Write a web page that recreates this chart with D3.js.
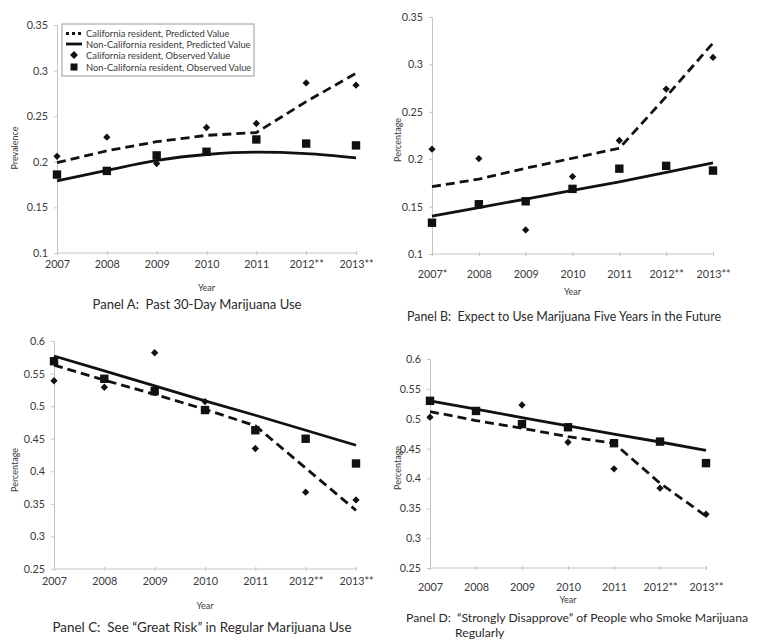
<!DOCTYPE html>
<html>
<head>
<meta charset="utf-8">
<script src="https://cdn.jsdelivr.net/npm/d3@7"></script>
<style>
  html, body { margin: 0; padding: 0; background: #fff; }
  svg { display: block; font-family: Lato, "Open Sans", sans-serif; }
  text { white-space: pre; }
</style>
</head>
<body>
<svg id="chart" width="762" height="643"></svg>
<script>
// ---------- DATA ----------
const yearLabels = ["2007", "2008", "2009", "2010", "2011", "2012**", "2013**"];
const yearLabelsB = ["2007*", "2008", "2009", "2010", "2011", "2012**", "2013**"];
const years = [2007, 2008, 2009, 2010, 2011, 2012, 2013];

const ticksAB = [0.1, 0.15, 0.2, 0.25, 0.3, 0.35];
const ticksCD = [0.25, 0.3, 0.35, 0.4, 0.45, 0.5, 0.55, 0.6];

const legendLabels = [
  "California resident, Predicted Value",
  "Non-California resident, Predicted Value",
  "California resident, Observed Value",
  "Non-California resident, Observed Value"
];

// Panel A: Past 30-Day Marijuana Use
const aCaPred  = [0.199, 0.212, 0.222, 0.229, 0.232, 0.266, 0.297];
const aNonPred = [0.179, 0.1905, 0.2015, 0.208, 0.2106, 0.209, 0.2044];
const aCaObs   = [0.206, 0.227, 0.198, 0.2376, 0.242, 0.2865, 0.284];
const aNonObs  = [0.186, 0.19, 0.207, 0.211, 0.2245, 0.22, 0.218];

// Panel B: Expect to use in five years
const bCaPred  = [0.171, 0.179, 0.1905, 0.201, 0.2116, 0.266, 0.3225];
const bNonPred = [0.14, 0.149, 0.158, 0.167, 0.176, 0.186, 0.196];
const bCaObs   = [0.2106, 0.2007, 0.1254, 0.1817, 0.2197, 0.274, 0.3074];
const bNonObs  = [0.133, 0.1525, 0.1556, 0.1687, 0.19, 0.193, 0.188];

// Panel C: See "Great Risk"
const cCaPred  = [0.563, 0.540, 0.518, 0.495, 0.470, 0.405, 0.340];
const cNonPred = [0.577, 0.554, 0.531, 0.508, 0.486, 0.463, 0.440];
const cCaObs   = [0.539, 0.529, 0.582, 0.507, 0.435, 0.368, 0.356];
const cNonObs  = [0.569, 0.542, 0.523, 0.494, 0.463, 0.45, 0.412];

// Panel D: "Strongly Disapprove"
const dCaPred  = [0.512, 0.497, 0.484, 0.470, 0.459, 0.392, 0.337];
const dNonPred = [0.530, 0.516, 0.502, 0.488, 0.474, 0.461, 0.447];
const dCaObs   = [0.5025, 0.5136, 0.523, 0.4606, 0.416, 0.3837, 0.34];
const dNonObs  = [0.53, 0.513, 0.491, 0.4857, 0.459, 0.4617, 0.4256];

const titleA = ["Panel A:  Past 30-Day Marijuana Use"];
const titleB = ["Panel B:  Expect to Use Marijuana Five Years in the Future"];
const titleC = ["Panel C:  See \u201CGreat Risk\u201D in Regular Marijuana Use"];
const titleD = ["Panel D:  \u201CStrongly Disapprove\u201D of People who Smoke Marijuana", "Regularly"];

// ---------- LAYOUT ----------
const panels = [
  { x0: 57, x1: 356, yT: 25, yB: 253, dom: [0.1, 0.35], ticks: ticksAB, xl: yearLabels,
    caPred: aCaPred, nonPred: aNonPred, caObs: aCaObs, nonObs: aNonObs,
    ylab: "Prevalence", ylabX: 14, ylabY: 148, tickY: 263, yearY: 287,
    title: titleA, titleX: 197, titleY: 304, titleW: 209, titleFs: 13, anchor: "middle", smoothNon: true, legend: true },
  { x0: 432, x1: 713, yT: 17, yB: 254, dom: [0.1, 0.35], ticks: ticksAB, xl: yearLabelsB,
    caPred: bCaPred, nonPred: bNonPred, caObs: bCaObs, nonObs: bNonObs,
    ylab: "Percentage", ylabX: 397, ylabY: 140, tickY: 273, yearY: 291,
    title: titleB, titleX: 564, titleY: 316, titleW: 314, titleFs: 13, anchor: "middle" },
  { x0: 54, x1: 356, yT: 341, yB: 569, dom: [0.25, 0.6], ticks: ticksCD, xl: yearLabels,
    caPred: cCaPred, nonPred: cNonPred, caObs: cCaObs, nonObs: cNonObs,
    ylab: "Percentage", ylabX: 14, ylabY: 470, tickY: 580, yearY: 605,
    title: titleC, titleX: 202, titleY: 627, titleW: 299, titleFs: 13, anchor: "middle" },
  { x0: 430, x1: 706, yT: 359, yB: 568, dom: [0.25, 0.6], ticks: ticksCD, xl: yearLabels,
    caPred: dCaPred, nonPred: dNonPred, caObs: dCaObs, nonObs: dNonObs,
    ylab: "Percentage", ylabX: 397, ylabY: 468, tickY: 586, yearY: 599,
    title: titleD, titleX: 406, titleY: 617, titleW: 342, titleFs: 12.2, anchor: "start", line2X: 455 }
];

const svg = d3.select("#chart");
const ink = "#111";
const txt = "#3a3a3a";
const axisCol = "#c4c4c4";

panels.forEach(p => {
  const x = d3.scaleLinear().domain([2007, 2013]).range([p.x0, p.x1]);
  const y = d3.scaleLinear().domain(p.dom).range([p.yB, p.yT]);
  const g = svg.append("g");

  // y axis
  const ya = d3.axisLeft(y).tickValues(p.ticks).tickSize(3)
    .tickFormat(d => String(+d.toFixed(2)));
  const yg = g.append("g").attr("transform", `translate(${p.x0},0)`).call(ya);
  yg.select(".domain").attr("stroke", axisCol);
  yg.selectAll(".tick line").attr("stroke", axisCol);
  yg.selectAll(".tick text").attr("x", -9).attr("fill", txt)
    .style("font-size", "10.8px").style("font-family", "Lato, sans-serif");

  // x axis
  const xa = d3.axisBottom(x).tickValues(years).tickSize(3).tickFormat((d, i) => p.xl[i]);
  const xg = g.append("g").attr("transform", `translate(0,${p.yB})`).call(xa);
  xg.select(".domain").attr("stroke", axisCol).attr("d", `M${p.x0},0H${p.x1}`);
  xg.selectAll(".tick line").attr("stroke", axisCol).attr("y1", -2).attr("y2", 2);
  xg.selectAll(".tick text").attr("y", null).attr("dy", null)
    .attr("transform", `translate(0,${p.tickY - p.yB})`)
    .attr("dominant-baseline", "central")
    .attr("fill", txt).style("font-size", "10.8px").style("font-family", "Lato, sans-serif");

  // axis titles
  g.append("text").attr("x", (p.x0 + p.x1) / 2).attr("y", p.yearY)
    .attr("text-anchor", "middle").attr("dominant-baseline", "central")
    .attr("fill", txt).style("font-size", "9px").text("Year");
  g.append("text").attr("transform", `translate(${p.ylabX},${p.ylabY}) rotate(-90)`)
    .attr("text-anchor", "middle").attr("dominant-baseline", "central")
    .attr("fill", txt).style("font-size", "9px").text(p.ylab);

  // lines
  const pts = arr => arr.map((v, i) => [years[i], v]);
  const lineLin = d3.line().x(d => x(d[0])).y(d => y(d[1]));
  const lineSmooth = d3.line().x(d => x(d[0])).y(d => y(d[1])).curve(d3.curveMonotoneX);

  g.append("path").attr("d", (p.smoothNon ? lineSmooth : lineLin)(pts(p.nonPred)))
    .attr("fill", "none").attr("stroke", ink).attr("stroke-width", 2.8);
  g.append("path").attr("d", lineLin(pts(p.caPred)))
    .attr("fill", "none").attr("stroke", ink).attr("stroke-width", 2.8)
    .attr("stroke-dasharray", "9,5");

  // markers
  g.selectAll(".sq").data(pts(p.nonObs)).join("rect")
    .attr("x", d => x(d[0]) - 4.2).attr("y", d => y(d[1]) - 4.2)
    .attr("width", 8.4).attr("height", 8.4).attr("fill", ink);
  const diamond = d3.symbol().type(d3.symbolDiamond2).size(34);
  g.selectAll(".dm").data(pts(p.caObs)).join("path")
    .attr("d", diamond)
    .attr("transform", d => `translate(${x(d[0])},${y(d[1])})`)
    .attr("fill", ink);

  // panel title
  p.title.forEach((t, i) => {
    const tt = g.append("text")
      .attr("x", i === 0 ? p.titleX : p.line2X)
      .attr("y", p.titleY + i * 15)
      .attr("text-anchor", p.anchor).attr("dominant-baseline", "central")
      .attr("fill", "#2a2a2a").style("font-size", p.titleFs + "px").text(t);
    if (i === 0) tt.attr("textLength", p.titleW).attr("lengthAdjust", "spacingAndGlyphs");
  });

  // legend
  if (p.legend) {
    const lg = g.append("g");
    lg.append("rect").attr("x", 62).attr("y", 24).attr("width", 192).attr("height", 52)
      .attr("fill", "#fff").attr("stroke", "#9a9a9a").attr("stroke-width", 1);
    const rows = [33.5, 44, 55, 67];
    const sx0 = 66, sx1 = 82, tx = 86;
    legendLabels.forEach((lab, i) => {
      const ry = rows[i];
      if (i === 0) {
        lg.append("line").attr("x1", sx0).attr("x2", sx1).attr("y1", ry).attr("y2", ry)
          .attr("stroke", ink).attr("stroke-width", 2.8).attr("stroke-dasharray", "3,3");
      } else if (i === 1) {
        lg.append("line").attr("x1", sx0).attr("x2", sx1).attr("y1", ry).attr("y2", ry)
          .attr("stroke", ink).attr("stroke-width", 2.8);
      } else if (i === 2) {
        lg.append("path").attr("d", d3.symbol().type(d3.symbolDiamond2).size(40)())
          .attr("transform", `translate(${(sx0 + sx1) / 2},${ry})`).attr("fill", ink);
      } else {
        lg.append("rect").attr("x", (sx0 + sx1) / 2 - 3.5).attr("y", ry - 3.5)
          .attr("width", 7).attr("height", 7).attr("fill", ink);
      }
      lg.append("text").attr("x", tx).attr("y", ry).attr("dominant-baseline", "central")
        .attr("fill", txt).style("font-size", "9.4px").text(lab);
    });
  }
});
</script>
</body>
</html>
